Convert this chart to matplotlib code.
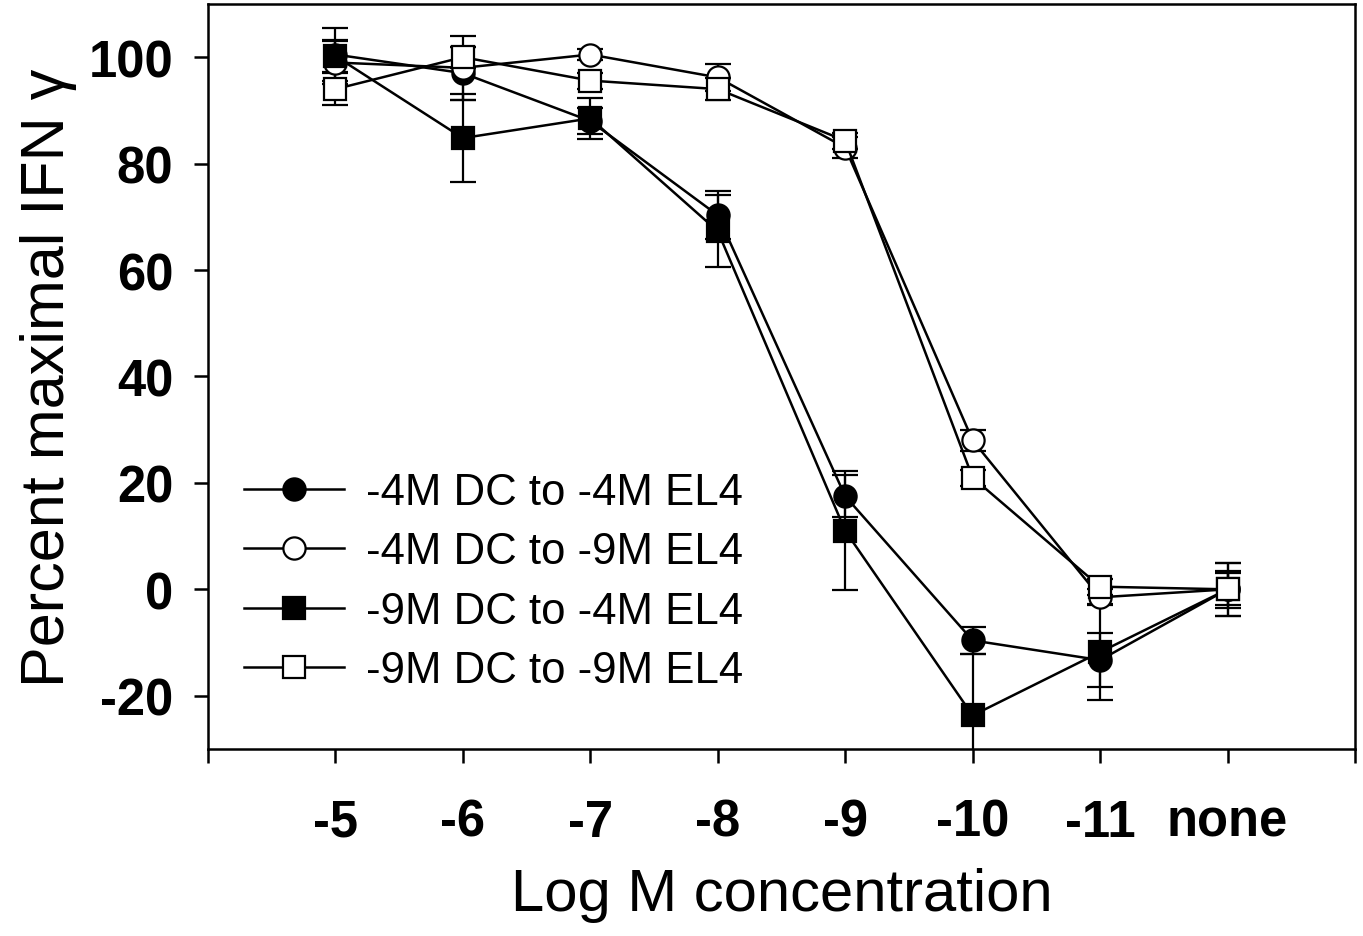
import matplotlib
matplotlib.use('agg')
from matplotlib import pyplot as plt

plt.rcParams['font.family'] = ['Liberation Sans', 'DejaVu Sans']
plt.rcParams['axes.unicode_minus'] = False

# x positions 1..8 correspond to the concentrations, 0 and 9 are blank edge ticks
tick_pos = [0, 1, 2, 3, 4, 5, 6, 7, 8, 9]
tick_labels = ['', '-5', '-6', '-7', '-8', '-9', '-10', '-11', 'none', '']
x = [1, 2, 3, 4, 5, 6, 7, 8]

# -4M DC to -4M EL4 (filled circle)
fc_y = [100.5, 97, 88, 70.3, 17.5, -9.6, -13.3, 0]
fc_err = [5, 5, 2.5, 4.5, 4, 2.5, 5, 5]
# -4M DC to -9M EL4 (open circle)
oc_y = [99, 98, 100.5, 96.2, 83, 28, -1.5, 0]
oc_err = [4, 6, 1, 2.5, 2, 2, 1.5, 3]
# -9M DC to -4M EL4 (filled square)
fs_y = [100.2, 84.8, 88.5, 67.3, 11, -23.7, -11.8, 0]
fs_err = [3, 8.3, 3.8, 6.8, 11.2, 11.5, 9, 3.5]
# -9M DC to -9M EL4 (open square)
os_y = [94, 100, 95.6, 94, 84.3, 21, 0.5, 0]
os_err = [3, 2, 1.5, 2, 1.5, 1.5, 1.5, 5]

series = [
    (fc_y, fc_err, 'o', 'black', '-4M DC to -4M EL4'),
    (oc_y, oc_err, 'o', 'white', '-4M DC to -9M EL4'),
    (fs_y, fs_err, 's', 'black', '-9M DC to -4M EL4'),
    (os_y, os_err, 's', 'white', '-9M DC to -9M EL4'),
]

fig = plt.figure(figsize=(13.63, 9.37), dpi=100)
ax = fig.add_axes([0.1526, 0.1996, 0.8415, 0.7951])

handles = []
for y, err, mk, fill, lab in series:
    ax.errorbar(x, y, yerr=err, fmt='none', ecolor='black', elinewidth=1.6,
                capsize=9.5, capthick=1.6, zorder=2)
    h, = ax.plot(x, y, color='black', linewidth=1.8, marker=mk, markersize=16,
                 markerfacecolor=fill, markeredgecolor='black', markeredgewidth=1.6,
                 label=lab, zorder=3)
    handles.append(h)

ax.set_xlim(0, 9)
ax.set_ylim(-30, 110)
ax.set_xticks(tick_pos)
ax.set_xticklabels(tick_labels)
ax.set_yticks([-20, 0, 20, 40, 60, 80, 100])

for s in ax.spines.values():
    s.set_linewidth(1.8)
ax.tick_params(axis='both', direction='out', width=1.8, length=10,
               labelsize=36.5)
ax.tick_params(axis='x', pad=25)
ax.tick_params(axis='y', pad=15)
for lbl in ax.get_xticklabels() + ax.get_yticklabels():
    lbl.set_fontweight('bold')

ax.set_xlabel('Log M concentration', fontsize=43, labelpad=15)
ax.set_ylabel('Percent maximal IFN γ', fontsize=44, labelpad=8)

ax.legend(handles=handles, loc='center left', bbox_to_anchor=(0.012, 0.2246),
          frameon=False, fontsize=31.5, handlelength=2.3, handletextpad=0.5,
          labelspacing=0.42, borderpad=0)

plt.savefig('out.png', dpi=100)
